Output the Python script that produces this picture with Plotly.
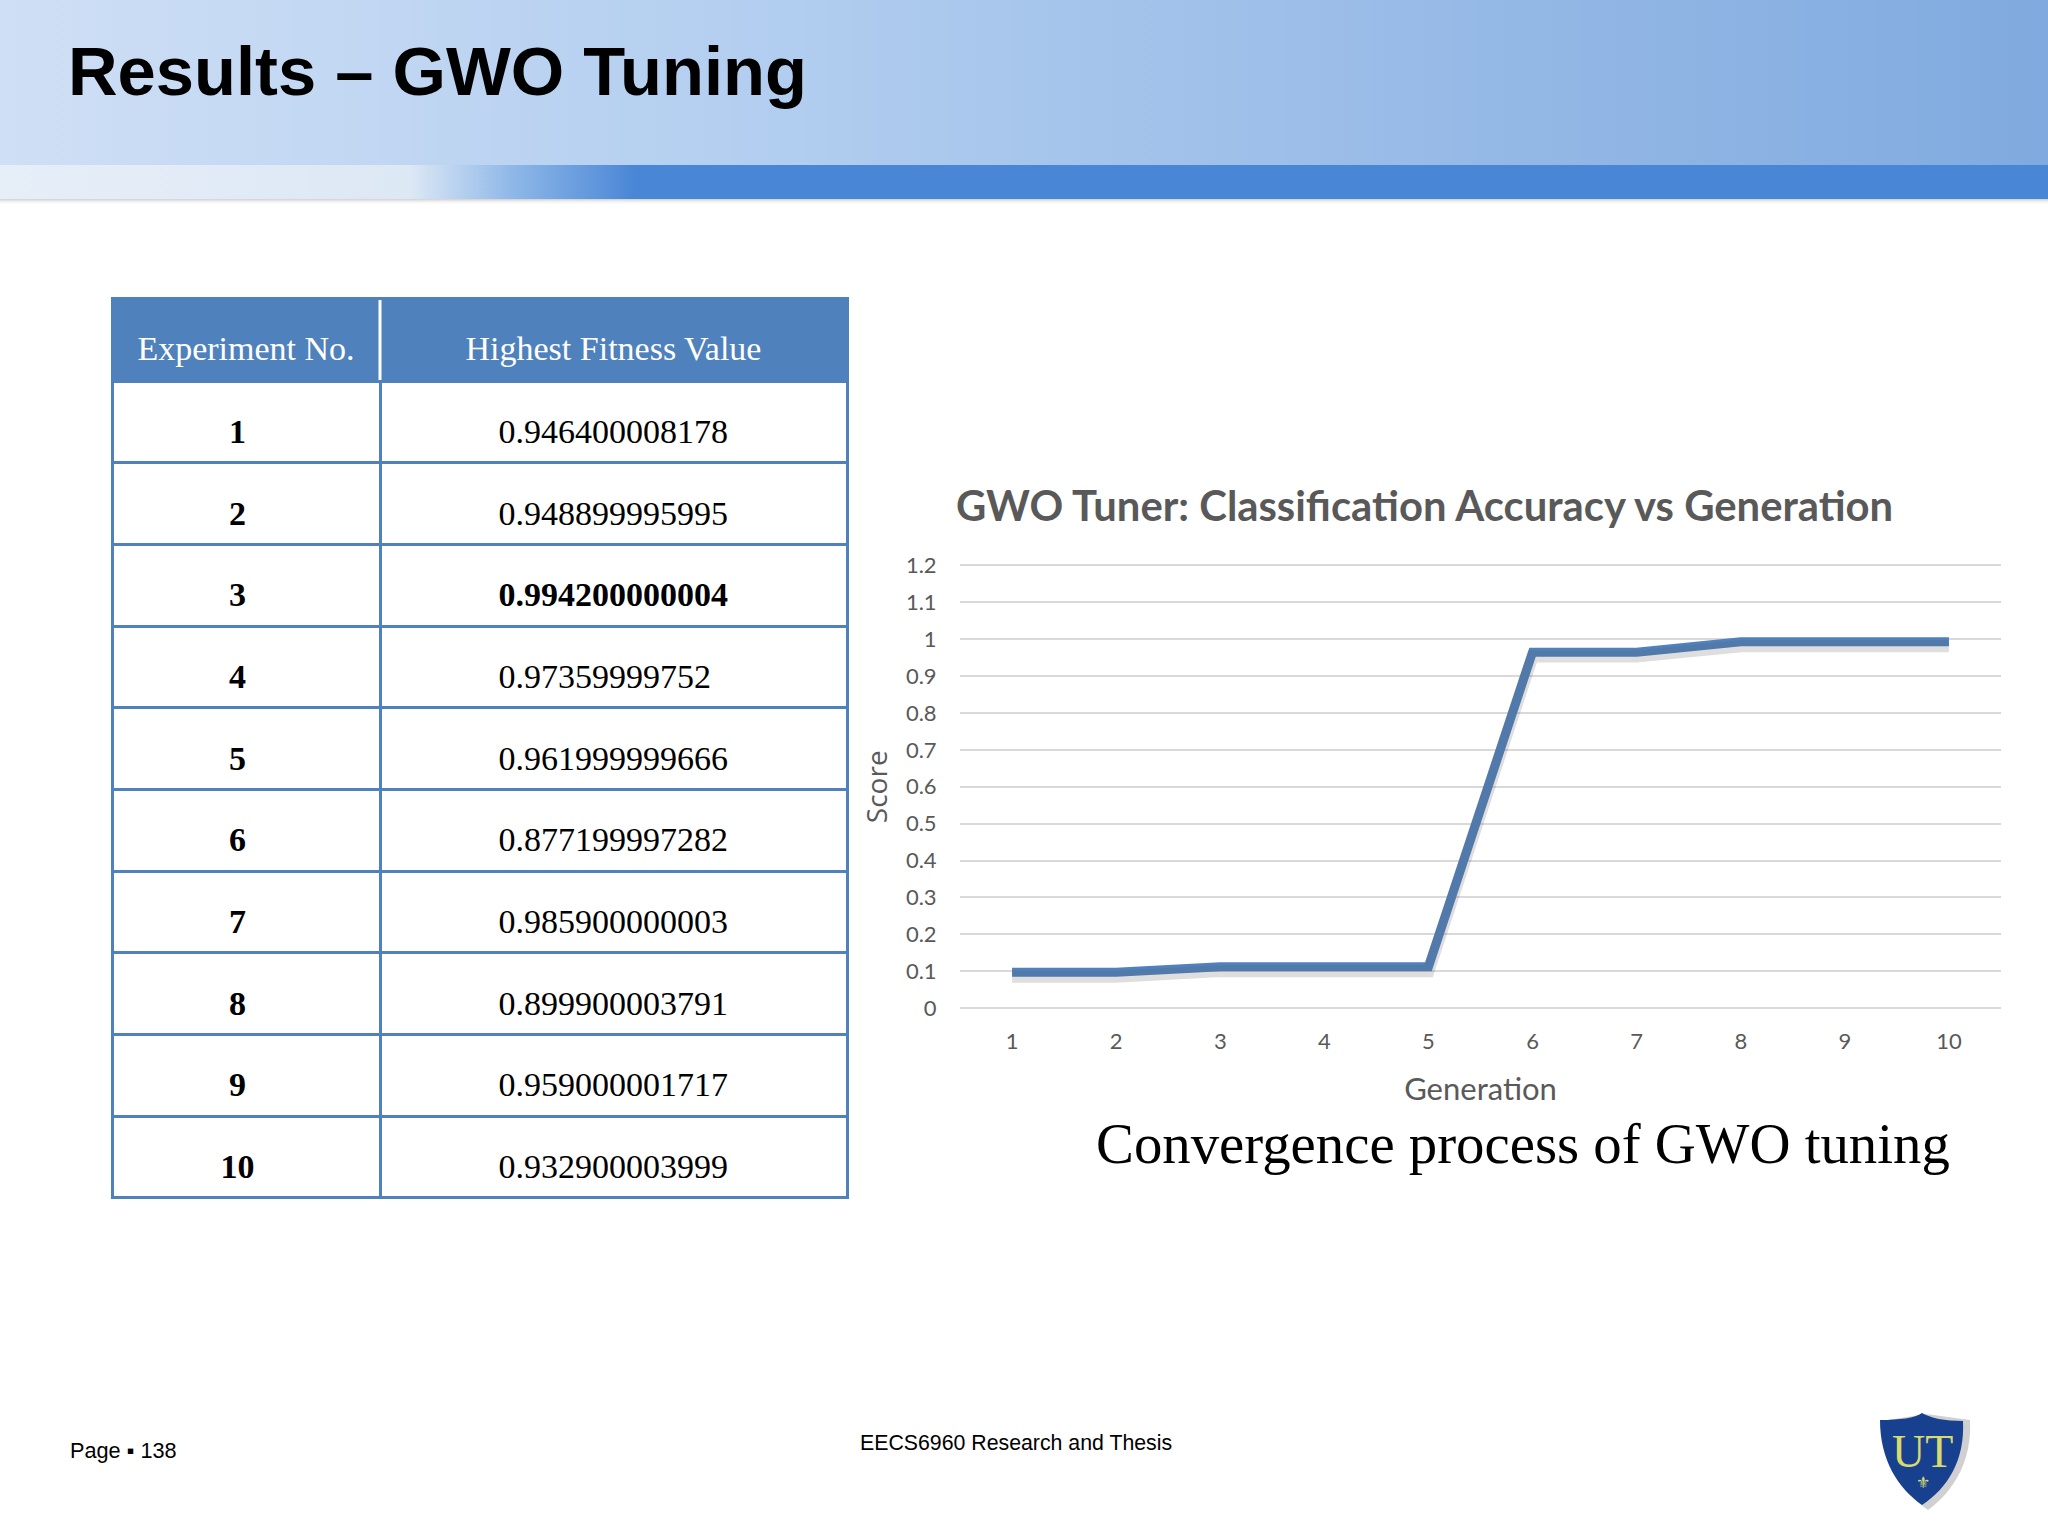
import base64
import plotly.graph_objects as go

W = 2048
H = 1536

generations = ["1", "2", "3", "4", "5", "6", "7", "8", "9", "10"]
scores = [0.097, 0.097, 0.112, 0.112, 0.112, 0.965, 0.965, 0.993, 0.993, 0.993]
y_ticks = [0, 0.1, 0.2, 0.3, 0.4, 0.5, 0.6, 0.7, 0.8, 0.9, 1, 1.1, 1.2]
y_labels = ["0", "0.1", "0.2", "0.3", "0.4", "0.5", "0.6", "0.7", "0.8", "0.9", "1", "1.1", "1.2"]

table_head = ["Experiment No.", "Highest Fitness Value"]
experiments = ["1", "2", "3", "4", "5", "6", "7", "8", "9", "10"]
fitness = ["0.946400008178", "0.948899995995", "0.994200000004", "0.97359999752", "0.961999999666",
           "0.877199997282", "0.985900000003", "0.899900003791", "0.959000001717", "0.932900003999"]
best_row = 2

BLUE = "#4f81bd"
GREY = "#595959"
NBSP = "\u00a0"


def px(x):
    return x / W


def py(y):
    return 1 - y / H


def cell_text(text, lead=""):
    # go.Table has no vertical alignment: an empty first line pushes the text down,
    # the small base font of the cells sets how far
    return f"{NBSP}<br><span style='font-size:34px'>{lead}{text}</span>"


# banner at the top of the slide, as an svg gradient
banner_svg = f"""<svg xmlns="http://www.w3.org/2000/svg" width="{W}" height="210">
<defs>
<linearGradient id="a" x1="0" x2="1" y1="0" y2="0">
<stop offset="0" stop-color="#cfdff5"/><stop offset="0.35" stop-color="#b4cff0"/>
<stop offset="0.65" stop-color="#9bbde8"/><stop offset="1" stop-color="#80aadf"/>
</linearGradient>
<linearGradient id="b" x1="0" x2="1" y1="0" y2="0">
<stop offset="0" stop-color="#e6eef8"/><stop offset="0.2" stop-color="#dde8f5"/>
<stop offset="0.25" stop-color="#8fb8e8"/><stop offset="0.31" stop-color="#4a86d6"/>
<stop offset="1" stop-color="#4a86d6"/>
</linearGradient>
<linearGradient id="c" x1="0" x2="0" y1="0" y2="1">
<stop offset="0" stop-color="#b0b0b0" stop-opacity="0.6"/><stop offset="1" stop-color="#ffffff" stop-opacity="0"/>
</linearGradient>
</defs>
<rect width="{W}" height="166" fill="url(#a)"/>
<rect y="165" width="{W}" height="34" fill="url(#b)"/>
<rect y="199" width="{W}" height="6" fill="url(#c)"/>
</svg>"""
banner_src = "data:image/svg+xml;base64," + base64.b64encode(banner_svg.encode()).decode()

fig = go.Figure()

# soft shadow of the line, same data on an axis shifted by a few pixels
fig.add_trace(go.Scatter(
    x=generations, y=scores, yaxis="y2", mode="lines",
    line=dict(color="rgba(90,90,90,0.2)", width=12),
    hoverinfo="skip", showlegend=False,
))
fig.add_trace(go.Scatter(
    x=generations, y=scores, mode="lines", name="Score",
    line=dict(color=BLUE, width=9), showlegend=False,
))

exp_cells = [cell_text(f"<b>{e}</b>{NBSP * 2}") for e in experiments]
fit_cells = [cell_text(f"<b>{v}</b>" if i == best_row else v, lead=NBSP * 13) for i, v in enumerate(fitness)]

fig.add_trace(go.Table(
    domain=dict(x=[px(112), px(847)], y=[py(1206), py(298)]),
    columnwidth=[268, 467],
    header=dict(
        values=[cell_text(h) for h in table_head],
        height=83,
        align="center",
        fill_color=BLUE,
        line=dict(color=BLUE, width=3),
        font=dict(family="Liberation Serif", size=24.5, color="white"),
    ),
    cells=dict(
        values=[exp_cells, fit_cells],
        height=81.7,
        align=["center", "left"],
        fill_color="white",
        line=dict(color=BLUE, width=3),
        font=dict(family="Liberation Serif", size=24.5, color="black"),
    ),
))

fig.update_layout(
    width=W,
    height=H,
    margin=dict(l=0, r=0, t=0, b=0, pad=0),
    paper_bgcolor="white",
    plot_bgcolor="white",
    xaxis=dict(
        automargin=False,
        domain=[px(960), px(2001)],
        type="category",
        range=[-0.5, 9.5],
        showgrid=False,
        showline=False,
        zeroline=False,
        ticks="outside",
        ticklen=12,
        tickcolor="rgba(0,0,0,0)",
        tickfont=dict(family="Lato", size=22, color=GREY),
        title=dict(text="Generation", font=dict(family="Lato", size=31, color=GREY), standoff=24),
    ),
    # range runs a little past 0 and 1.2 so that the two outer gridlines are kept
    yaxis=dict(
        automargin=False,
        domain=[py(1010), py(563.5)],
        range=[-0.0054, 1.2054],
        tickvals=y_ticks,
        ticktext=y_labels,
        showgrid=True,
        gridcolor="#d9d9d9",
        gridwidth=2,
        zeroline=False,
        showline=False,
        ticks="outside",
        ticklen=18,
        tickcolor="rgba(0,0,0,0)",
        tickfont=dict(family="Lato", size=22, color=GREY),
        title=dict(text="Score", font=dict(family="Open Sans", size=28, color=GREY), standoff=10),
    ),
    yaxis2=dict(
        automargin=False,
        domain=[py(1010), py(563.5)],
        overlaying="y",
        range=[0.0066, 1.2174],
        visible=False,
    ),
    images=[dict(
        source=banner_src, xref="paper", yref="paper", x=0, y=1,
        sizex=1, sizey=210 / H, sizing="stretch", xanchor="left", yanchor="top", layer="below",
    )],
    shapes=[
        # white divider in the table header
        dict(type="line", xref="paper", yref="paper", x0=px(380), x1=px(380), y0=py(300), y1=py(380),
             line=dict(color="white", width=3), layer="above"),
        # logo shadow and shield
        dict(type="path", xref="paper", yref="paper", layer="below", line_width=0,
             fillcolor="rgba(120,120,120,0.35)",
             path=(f"M {px(1888)} {py(1420)} L {px(1926)} {py(1414)} L {px(1970)} {py(1420)} "
                   f"C {px(1972)} {py(1460)} {px(1955)} {py(1490)} {px(1928)} {py(1510)} "
                   f"C {px(1905)} {py(1495)} {px(1888)} {py(1460)} {px(1888)} {py(1420)} Z")),
        dict(type="path", xref="paper", yref="paper", layer="below", line_width=0,
             fillcolor="#17408f",
             path=(f"M {px(1880)} {py(1420)} C {px(1900)} {py(1420)} {px(1915)} {py(1418)} {px(1922)} {py(1413)} "
                   f"C {px(1930)} {py(1418)} {px(1945)} {py(1421)} {px(1963)} {py(1421)} "
                   f"C {px(1965)} {py(1460)} {px(1948)} {py(1488)} {px(1922)} {py(1505)} "
                   f"C {px(1898)} {py(1488)} {px(1880)} {py(1460)} {px(1880)} {py(1420)} Z")),
    ],
    annotations=[
        dict(text="<b>Results – GWO Tuning</b>", xref="paper", yref="paper", x=px(66), y=py(71),
             xanchor="left", yanchor="middle", showarrow=False,
             font=dict(family="Liberation Sans", size=68.7, color="black")),
        dict(text="<b>GWO Tuner: Classification Accuracy vs Generation</b>", xref="paper", yref="paper",
             x=px(954), y=py(505), xanchor="left", yanchor="middle", showarrow=False,
             font=dict(family="Lato", size=41.8, color=GREY)),
        dict(text="Convergence process of GWO tuning", xref="paper", yref="paper", x=px(1094), y=py(1143),
             xanchor="left", yanchor="middle", showarrow=False,
             font=dict(family="Liberation Serif", size=56.8, color="black")),
        dict(text="Page ▪ 138", xref="paper", yref="paper", x=px(68), y=py(1450),
             xanchor="left", yanchor="middle", showarrow=False,
             font=dict(family="Liberation Sans", size=21.7, color="black")),
        dict(text="EECS6960 Research and Thesis", xref="paper", yref="paper", x=px(1016), y=py(1443),
             xanchor="center", yanchor="middle", showarrow=False,
             font=dict(family="Liberation Sans", size=21.3, color="black")),
        dict(text="UT", xref="paper", yref="paper", x=px(1922), y=py(1451),
             xanchor="center", yanchor="middle", showarrow=False,
             font=dict(family="Liberation Serif", size=46, color="#d9d96e")),
        dict(text="⚜", xref="paper", yref="paper", x=px(1923), y=py(1482),
             xanchor="center", yanchor="middle", showarrow=False,
             font=dict(family="DejaVu Sans", size=16, color="#d9d96e")),
    ],
)

fig.write_html("out.html", config={"displayModeBar": False}, post_script="document.body.style.margin='0';")
